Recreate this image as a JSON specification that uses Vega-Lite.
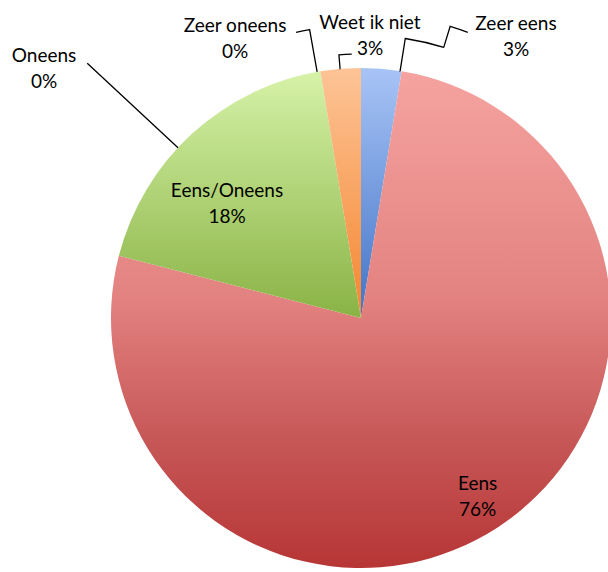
{
  "$schema": "https://vega.github.io/schema/vega-lite/v6.json",
  "width": 722,
  "height": 636,
  "autosize": {"type": "none"},
  "padding": 0,
  "background": "white",
  "config": {
    "view": {"stroke": null},
    "text": {"font": "Lato", "fontSize": 19, "color": "black", "align": "center", "baseline": "middle"}
  },
  "data": {
    "values": [
      {"categorie": "Zeer eens", "code": 1, "aandeel": 0.026},
      {"categorie": "Eens", "code": 2, "aandeel": 0.764},
      {"categorie": "Eens/Oneens", "code": 3, "aandeel": 0.184},
      {"categorie": "Oneens", "code": 4, "aandeel": 0},
      {"categorie": "Zeer oneens", "code": 5, "aandeel": 0},
      {"categorie": "Weet ik niet", "code": 6, "aandeel": 0.026}
    ]
  },
  "encoding": {
    "theta": {"field": "aandeel", "type": "quantitative", "stack": true},
    "order": {"field": "code", "type": "quantitative"},
    "detail": {"field": "categorie", "type": "nominal"}
  },
  "layer": [
    {
      "mark": {"type": "arc", "radius": 250},
      "encoding": {
        "fill": {
          "condition": [
            {"test": "datum.categorie === 'Zeer eens'", "value": {"gradient": "linear", "x1": 0, "y1": 0, "x2": 0, "y2": 1, "stops": [{"offset": 0, "color": "#A8C4F6"}, {"offset": 1, "color": "#4273C6"}]}},
            {"test": "datum.categorie === 'Eens'", "value": {"gradient": "linear", "x1": 0, "y1": 0, "x2": 0, "y2": 1, "stops": [{"offset": 0, "color": "#F5A3A0"}, {"offset": 0.45, "color": "#E38381"}, {"offset": 0.75, "color": "#C65656"}, {"offset": 1, "color": "#B73535"}]}},
            {"test": "datum.categorie === 'Eens/Oneens'", "value": {"gradient": "linear", "x1": 0, "y1": 0, "x2": 0, "y2": 1, "stops": [{"offset": 0, "color": "#D6F2A8"}, {"offset": 1, "color": "#89B345"}]}},
            {"test": "datum.categorie === 'Weet ik niet'", "value": {"gradient": "linear", "x1": 0, "y1": 0, "x2": 0, "y2": 1, "stops": [{"offset": 0, "color": "#FDC497"}, {"offset": 1, "color": "#F4862F"}]}}
          ],
          "value": "#cccccc"
        }
      }
    },
    {
      "mark": {"type": "arc", "filled": false, "stroke": "black", "strokeWidth": 1.3, "radius": 264, "radius2": 250, "thetaOffset": 0.0796, "strokeDash": [0, 30.23, 26.9, 1000]},
      "encoding": {"strokeOpacity": {"condition": {"test": "datum.categorie === 'Weet ik niet'", "value": 1}, "value": 0}}
    },
    {
      "mark": {"type": "arc", "filled": false, "stroke": "black", "strokeWidth": 1.3, "radius": 293, "radius2": 250, "thetaOffset": -0.1763, "strokeDash": [13.8, 117.9, 43, 1000]},
      "encoding": {"strokeOpacity": {"condition": {"test": "datum.categorie === 'Weet ik niet'", "value": 1}, "value": 0}}
    },
    {
      "mark": {"type": "arc", "filled": false, "stroke": "black", "strokeWidth": 1.3, "radius": 283, "radius2": 250, "thetaOffset": 0.1571, "strokeDash": [0, 6.72, 72.51, 1000]},
      "encoding": {"strokeOpacity": {"condition": {"test": "datum.categorie === 'Zeer eens'", "value": 1}, "value": 0}}
    },
    {
      "mark": {"type": "arc", "filled": false, "stroke": "black", "strokeWidth": 1.3, "radius": 305, "radius2": 283, "thetaOffset": 0.2967, "strokeDash": [0, 31.22, 40.6, 1000]},
      "encoding": {"strokeOpacity": {"condition": {"test": "datum.categorie === 'Zeer eens'", "value": 1}, "value": 0}}
    },
    {
      "mark": {"type": "arc", "filled": false, "stroke": "black", "strokeWidth": 1.3, "radius": 374, "radius2": 250, "thetaOffset": -0.6578},
      "encoding": {"strokeOpacity": {"condition": {"test": "datum.categorie === 'Oneens'", "value": 1}, "value": 0}}
    },
    {
      "mark": {"type": "text", "radius": 402.8, "thetaOffset": -0.7425, "dy": -13},
      "encoding": {"text": {"condition": {"test": "datum.categorie !== 'Oneens'", "value": ""}, "field": "categorie", "type": "nominal"}}
    },
    {
      "mark": {"type": "text", "radius": 402.8, "thetaOffset": -0.7425, "dy": 13},
      "encoding": {"text": {"condition": {"test": "datum.categorie !== 'Oneens'", "value": ""}, "field": "aandeel", "type": "quantitative", "format": ".0%"}}
    },
    {
      "mark": {"type": "text", "radius": 306.1, "thetaOffset": -0.2608, "dy": -13},
      "encoding": {"text": {"condition": {"test": "datum.categorie !== 'Zeer oneens'", "value": ""}, "field": "categorie", "type": "nominal"}}
    },
    {
      "mark": {"type": "text", "radius": 306.1, "thetaOffset": -0.2608, "dy": 13},
      "encoding": {"text": {"condition": {"test": "datum.categorie !== 'Zeer oneens'", "value": ""}, "field": "aandeel", "type": "quantitative", "format": ".0%"}}
    },
    {
      "mark": {"type": "text", "radius": 282.1, "thetaOffset": 0.1136, "dy": -13},
      "encoding": {"text": {"condition": {"test": "datum.categorie !== 'Weet ik niet'", "value": ""}, "field": "categorie", "type": "nominal"}}
    },
    {
      "mark": {"type": "text", "radius": 282.1, "thetaOffset": 0.1136, "dy": 13},
      "encoding": {"text": {"condition": {"test": "datum.categorie !== 'Weet ik niet'", "value": ""}, "field": "aandeel", "type": "quantitative", "format": ".0%"}}
    },
    {
      "mark": {"type": "text", "radius": 320.5, "thetaOffset": 0.4232, "dy": -13},
      "encoding": {"text": {"condition": {"test": "datum.categorie !== 'Zeer eens'", "value": ""}, "field": "categorie", "type": "nominal"}}
    },
    {
      "mark": {"type": "text", "radius": 320.5, "thetaOffset": 0.4232, "dy": 13},
      "encoding": {"text": {"condition": {"test": "datum.categorie !== 'Zeer eens'", "value": ""}, "field": "aandeel", "type": "quantitative", "format": ".0%"}}
    },
    {
      "mark": {"type": "text", "radius": 175.6, "thetaOffset": -0.1265, "dy": -13},
      "encoding": {"text": {"condition": {"test": "datum.categorie !== 'Eens/Oneens'", "value": ""}, "field": "categorie", "type": "nominal"}}
    },
    {
      "mark": {"type": "text", "radius": 175.6, "thetaOffset": -0.1265, "dy": 13},
      "encoding": {"text": {"condition": {"test": "datum.categorie !== 'Eens/Oneens'", "value": ""}, "field": "aandeel", "type": "quantitative", "format": ".0%"}}
    },
    {
      "mark": {"type": "text", "radius": 213.4, "dy": -13},
      "encoding": {"text": {"condition": {"test": "datum.categorie !== 'Eens'", "value": ""}, "field": "categorie", "type": "nominal"}}
    },
    {
      "mark": {"type": "text", "radius": 213.4, "dy": 13},
      "encoding": {"text": {"condition": {"test": "datum.categorie !== 'Eens'", "value": ""}, "field": "aandeel", "type": "quantitative", "format": ".0%"}}
    }
  ]
}
